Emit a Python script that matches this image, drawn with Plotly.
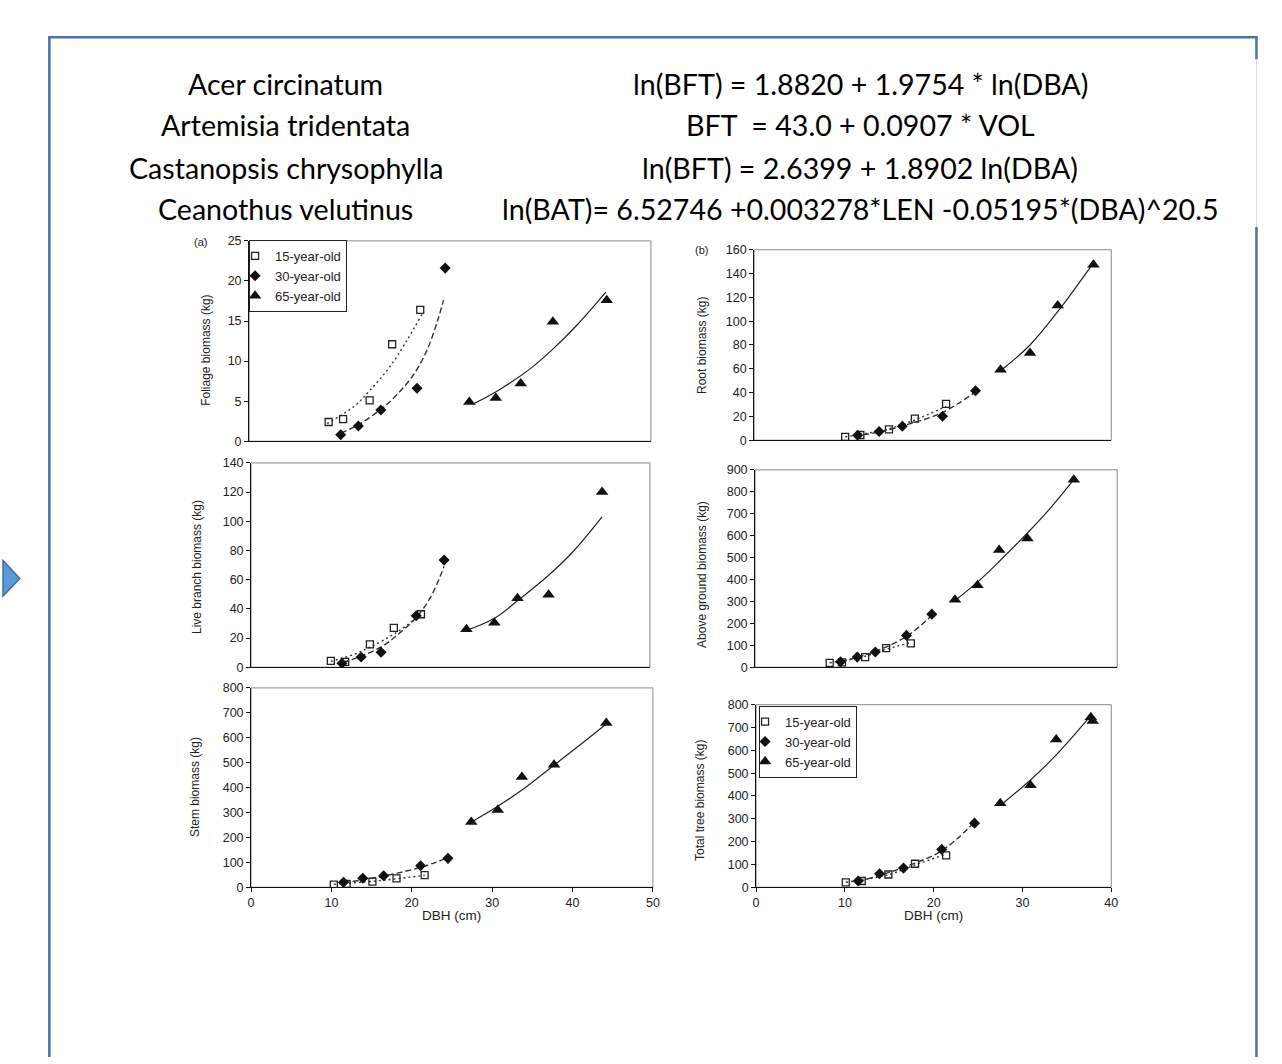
import plotly.graph_objects as go

W, H = 1282, 1064

# ---------------- header text ----------------
species = ["Acer circinatum", "Artemisia tridentata", "Castanopsis chrysophylla", "Ceanothus velutinus"]
equations = [
    "ln(BFT) = 1.8820 + 1.9754 * ln(DBA)",
    "BFT  = 43.0 + 0.0907 * VOL",
    "ln(BFT) = 2.6399 + 1.8902 ln(DBA)",
    "ln(BAT)= 6.52746 +0.003278*LEN -0.05195*(DBA)^20.5",
]

series_names = ["15-year-old", "30-year-old", "65-year-old"]

# ---------------- (a) Foliage biomass ----------------
fol_dbh_15 = [9.9, 11.7, 15.0, 17.8, 21.3]
fol_kg_15 = [2.4, 2.75, 5.1, 12.1, 16.4]
fol_dbh_30 = [11.4, 13.6, 16.4, 20.9, 24.4]
fol_kg_30 = [0.8, 1.9, 3.9, 6.6, 21.6]
fol_dbh_65 = [27.4, 30.7, 33.8, 37.8, 44.5]
fol_kg_65 = [4.9, 5.4, 7.2, 14.9, 17.6]
fol_fit_dbh_15 = [9.7, 13.0, 15.0, 17.8, 21.5]
fol_fit_kg_15 = [2.2, 4.3, 6.3, 9.7, 15.8]
fol_fit_dbh_30 = [11.4, 13.6, 16.3, 17.9, 20.4, 22.2, 23.5, 24.2]
fol_fit_kg_30 = [1.0, 2.05, 3.9, 5.3, 8.2, 11.5, 15.2, 17.6]
fol_fit_dbh_65 = [28.0, 31.1, 34.8, 37.7, 40.9, 44.4]
fol_fit_kg_65 = [4.7, 6.4, 8.9, 11.4, 14.6, 18.6]

# ---------------- (b) Root biomass ----------------
root_dbh_15 = [10.2, 11.9, 15.1, 18.0, 21.5]
root_kg_15 = [2.75, 4.4, 9.1, 18.2, 30.6]
root_dbh_30 = [11.6, 14.0, 16.6, 21.1, 24.8]
root_kg_30 = [4.1, 7.4, 11.8, 20.1, 41.6]
root_dbh_65 = [27.6, 30.9, 34.0, 38.0]
root_kg_65 = [59.2, 73.3, 113.2, 147.4]
root_fit_dbh_15 = [10.2, 15.0, 18.0, 21.5]
root_fit_kg_15 = [2.8, 9.5, 17.0, 28.5]
root_fit_dbh_30 = [11.2, 14.0, 17.3, 21.0, 24.6]
root_fit_kg_30 = [3.6, 7.0, 13.5, 23.0, 39.5]
root_fit_dbh_65 = [27.7, 30.9, 34.0, 37.9]
root_fit_kg_65 = [59.0, 80.0, 108.0, 148.0]

# ---------------- Live branch biomass ----------------
live_dbh_15 = [10.0, 11.8, 14.9, 17.9, 21.3]
live_kg_15 = [4.3, 3.6, 15.6, 26.9, 36.3]
live_dbh_30 = [11.4, 13.8, 16.3, 20.7, 24.2]
live_kg_30 = [2.7, 7.0, 10.2, 35.2, 73.4]
live_dbh_65 = [27.0, 30.5, 33.4, 37.3, 44.0]
live_kg_65 = [26.0, 30.5, 47.2, 49.7, 120.0]
live_fit_dbh_15 = [10.0, 13.0, 15.0, 18.0, 21.3]
live_fit_kg_15 = [4.0, 9.0, 14.0, 23.0, 36.0]
live_fit_dbh_30 = [11.5, 14.0, 16.5, 18.1, 20.7, 22.5, 24.2]
live_fit_kg_30 = [3.2, 8.0, 14.5, 21.0, 34.0, 48.0, 69.0]
live_fit_dbh_65 = [26.7, 30.5, 33.4, 37.3, 40.5, 44.0]
live_fit_kg_65 = [24.5, 33.5, 45.5, 63.0, 80.0, 103.0]

# ---------------- Above ground biomass ----------------
above_dbh_15 = [10.3, 12.0, 15.2, 18.1, 21.5]
above_kg_15 = [19.5, 22.0, 46.0, 87.0, 109.0]
above_dbh_30 = [11.8, 14.1, 16.6, 20.9, 24.4]
above_kg_30 = [25.0, 46.0, 69.0, 145.0, 242.0]
above_dbh_65 = [27.6, 30.7, 33.7, 37.6, 44.0]
above_kg_65 = [307.0, 374.0, 534.0, 587.0, 855.0]
above_fit_dbh_15 = [10.3, 15.2, 18.1, 21.5]
above_fit_kg_15 = [20.0, 50.0, 82.0, 112.0]
above_fit_dbh_30 = [11.8, 14.1, 16.6, 20.9, 24.4]
above_fit_kg_30 = [22.0, 45.0, 72.0, 140.0, 236.0]
above_fit_dbh_65 = [27.6, 30.7, 33.7, 37.6, 40.5, 44.0]
above_fit_kg_65 = [304.0, 388.0, 482.0, 612.0, 715.0, 855.0]

# ---------------- Stem biomass ----------------
stem_dbh_15 = [10.3, 11.9, 15.1, 18.1, 21.6]
stem_kg_15 = [10.6, 13.0, 22.5, 35.7, 49.0]
stem_dbh_30 = [11.5, 13.9, 16.5, 21.1, 24.5]
stem_kg_30 = [20.0, 36.0, 46.0, 86.0, 116.0]
stem_dbh_65 = [27.4, 30.7, 33.7, 37.7, 44.2]
stem_kg_65 = [262.0, 310.0, 443.0, 492.0, 659.0]
stem_fit_dbh_15 = [10.3, 15.1, 18.1, 21.6]
stem_fit_kg_15 = [12.0, 24.0, 34.0, 48.0]
stem_fit_dbh_30 = [11.5, 13.9, 16.5, 21.1, 24.5]
stem_fit_kg_30 = [17.0, 30.0, 45.0, 80.0, 118.0]
stem_fit_dbh_65 = [27.6, 30.7, 33.7, 37.7, 41.0, 44.2]
stem_fit_kg_65 = [265.0, 325.0, 390.0, 490.0, 573.0, 655.0]

# ---------------- Total tree biomass ----------------
total_dbh_15 = [10.1, 11.9, 14.9, 17.9, 21.4]
total_kg_15 = [21.7, 27.5, 56.0, 103.0, 140.0]
total_dbh_30 = [11.5, 13.9, 16.6, 20.9, 24.6]
total_kg_30 = [27.5, 59.0, 84.0, 166.0, 281.0]
total_dbh_65 = [27.5, 30.9, 33.8, 37.7, 37.9]
total_kg_65 = [368.0, 447.0, 647.0, 745.0, 729.0]
total_fit_dbh_15 = [10.1, 14.9, 17.9, 21.4]
total_fit_kg_15 = [22.0, 55.0, 98.0, 145.0]
total_fit_dbh_30 = [11.5, 13.9, 16.6, 20.9, 24.6]
total_fit_kg_30 = [25.0, 52.0, 87.0, 160.0, 285.0]
total_fit_dbh_65 = [27.7, 30.9, 33.8, 37.7]
total_fit_kg_65 = [365.0, 470.0, 580.0, 752.0]

# tick values
foliage_ticks = [0, 5, 10, 15, 20, 25]
root_ticks = [0, 20, 40, 60, 80, 100, 120, 140, 160]
live_ticks = [0, 20, 40, 60, 80, 100, 120, 140]
above_ticks = [0, 100, 200, 300, 400, 500, 600, 700, 800, 900]
stem_ticks = [0, 100, 200, 300, 400, 500, 600, 700, 800]
total_ticks = [0, 100, 200, 300, 400, 500, 600, 700, 800]
dbh_ticks_left = [0, 10, 20, 30, 40, 50]
dbh_ticks_right = [0, 10, 20, 30, 40]


def px(x):
    return x / W


def py(y):
    return 1 - y / H


panels = [
    dict(name="foliage", box=(248, 653, 237, 440), xr=[0, 50], yr=[0, 25], yt=foliage_ticks,
         xt=None, title="Foliage biomass (kg)", tpos=(205, 348),
         data=[(fol_dbh_15, fol_kg_15, fol_fit_dbh_15, fol_fit_kg_15),
               (fol_dbh_30, fol_kg_30, fol_fit_dbh_30, fol_fit_kg_30),
               (fol_dbh_65, fol_kg_65, fol_fit_dbh_65, fol_fit_kg_65)]),
    dict(name="root", box=(757, 1117, 246, 439), xr=[0, 40], yr=[0, 160], yt=root_ticks,
         xt=None, title="Root biomass (kg)", tpos=(705, 343),
         data=[(root_dbh_15, root_kg_15, root_fit_dbh_15, root_fit_kg_15),
               (root_dbh_30, root_kg_30, root_fit_dbh_30, root_fit_kg_30),
               (root_dbh_65, root_kg_65, root_fit_dbh_65, root_fit_kg_65)]),
    dict(name="live", box=(250, 652, 462, 669), xr=[0, 50], yr=[0, 140], yt=live_ticks,
         xt=None, title="Live branch biomass (kg)", tpos=(195, 567),
         data=[(live_dbh_15, live_kg_15, live_fit_dbh_15, live_fit_kg_15),
               (live_dbh_30, live_kg_30, live_fit_dbh_30, live_fit_kg_30),
               (live_dbh_65, live_kg_65, live_fit_dbh_65, live_fit_kg_65)]),
    dict(name="above", box=(758, 1123, 469, 669), xr=[0, 50], yr=[0, 900], yt=above_ticks,
         xt=None, title="Above ground biomass (kg)", tpos=(705, 575),
         data=[(above_dbh_15, above_kg_15, above_fit_dbh_15, above_fit_kg_15),
               (above_dbh_30, above_kg_30, above_fit_dbh_30, above_fit_kg_30),
               (above_dbh_65, above_kg_65, above_fit_dbh_65, above_fit_kg_65)]),
    dict(name="stem", box=(250, 655, 690, 892), xr=[0, 50], yr=[0, 800], yt=stem_ticks,
         xt=dbh_ticks_left, title="Stem biomass (kg)", tpos=(193, 790),
         data=[(stem_dbh_15, stem_kg_15, stem_fit_dbh_15, stem_fit_kg_15),
               (stem_dbh_30, stem_kg_30, stem_fit_dbh_30, stem_fit_kg_30),
               (stem_dbh_65, stem_kg_65, stem_fit_dbh_65, stem_fit_kg_65)]),
    dict(name="total", box=(759, 1117, 707, 892), xr=[0, 40], yr=[0, 800], yt=total_ticks,
         xt=dbh_ticks_right, title="Total tree biomass (kg)", tpos=(703, 804),
         data=[(total_dbh_15, total_kg_15, total_fit_dbh_15, total_fit_kg_15),
               (total_dbh_30, total_kg_30, total_fit_dbh_30, total_fit_kg_30),
               (total_dbh_65, total_kg_65, total_fit_dbh_65, total_fit_kg_65)]),
]

marker_styles = [
    dict(symbol="square-open", size=7, color="#222", line=dict(width=1.3, color="#222")),
    dict(symbol="diamond", size=8.5, color="#111"),
    dict(symbol="triangle-up", size=11, color="#111"),
]
line_styles = [
    dict(color="#333", width=1.4, dash="2px,3px"),
    dict(color="#333", width=1.4, dash="6px,3px"),
    dict(color="#222", width=1.2),
]

TICK_FONT = dict(family="Liberation Sans, Arial", size=12.5, color="#222")

fig = go.Figure()
annotations = []
shapes = []
layout_axes = {}

for i, p in enumerate(panels):
    idx = "" if i == 0 else str(i + 1)
    xa, ya = "x" + idx, "y" + idx
    x0, x1, yt, yb = p["box"]
    layout_axes["xaxis" + idx] = dict(
        domain=[px(x0), px(x1)], range=p["xr"], anchor=ya,
        showline=True, linecolor="#111", linewidth=1, showgrid=False, zeroline=False,
        ticks="outside" if p["xt"] else "", ticklen=4, tickcolor="#111",
        tickvals=p["xt"] if p["xt"] else [], showticklabels=bool(p["xt"]),
        tickfont=TICK_FONT, fixedrange=True,
    )
    layout_axes["yaxis" + idx] = dict(
        domain=[py(yb), py(yt)], range=p["yr"], anchor=xa,
        showline=True, linecolor="#111", linewidth=1, showgrid=False, zeroline=False,
        ticks="outside", ticklen=4, tickcolor="#111", tickvals=p["yt"],
        tickfont=TICK_FONT, fixedrange=True,
    )
    shapes.append(dict(type="rect", xref=xa + " domain", yref=ya + " domain",
                       x0=0, x1=1, y0=0, y1=1, line=dict(color="#8a8a8a", width=1), layer="below"))
    annotations.append(dict(text=p["title"], x=px(p["tpos"][0]), y=py(p["tpos"][1]),
                            xref="paper", yref="paper", showarrow=False, textangle=-90,
                            font=dict(family="Liberation Sans, Arial", size=12, color="#222"),
                            xanchor="center", yanchor="middle"))
    if p["xt"]:
        annotations.append(dict(text="DBH (cm)", x=px((x0 + x1) / 2), y=py(921),
                                xref="paper", yref="paper", showarrow=False,
                                font=dict(family="Liberation Sans, Arial", size=13.5, color="#222"),
                                xanchor="center", yanchor="middle"))
    for s, (dx, dy, fx, fy) in enumerate(p["data"]):
        legend_name = None
        if p["name"] == "foliage":
            legend_name = "legend"
        elif p["name"] == "total":
            legend_name = "legend2"
        fig.add_trace(go.Scatter(x=fx, y=fy, mode="lines", line=line_styles[s], line_shape="spline",
                                 xaxis=xa, yaxis=ya, showlegend=False, hoverinfo="skip"))
        fig.add_trace(go.Scatter(x=dx, y=dy, mode="markers", marker=marker_styles[s],
                                 name=series_names[s], xaxis=xa, yaxis=ya,
                                 showlegend=legend_name is not None,
                                 legend=legend_name if legend_name else "legend"))

annotations.append(dict(text="(a)", x=px(199.5), y=py(238), xref="paper", yref="paper", showarrow=False,
                        xanchor="center", yanchor="middle",
                        font=dict(family="Liberation Sans, Arial", size=11, color="#222")))
annotations.append(dict(text="(b)", x=px(704), y=py(246), xref="paper", yref="paper", showarrow=False,
                        xanchor="center", yanchor="middle",
                        font=dict(family="Liberation Sans, Arial", size=11, color="#222")))

row_y = [78, 120, 163, 205]
for sp, eq, yy in zip(species, equations, row_y):
    annotations.append(dict(text=sp, x=px(285), y=py(yy), xref="paper", yref="paper", showarrow=False,
                            font=dict(family="Lato", size=28.6, color="#000"), xanchor="center", yanchor="middle"))
    annotations.append(dict(text=eq, x=px(864), y=py(yy), xref="paper", yref="paper", showarrow=False,
                            font=dict(family="Lato", size=28.6, color="#000"), xanchor="center", yanchor="middle"))

frame_col = "#4a74a8"
shapes += [
    dict(type="line", xref="paper", yref="paper", x0=px(46.7), x1=px(46.7), y0=py(30), y1=0,
         line=dict(color=frame_col, width=2.5)),
    dict(type="line", xref="paper", yref="paper", x0=px(45.5), x1=px(1264.5), y0=py(30.7), y1=py(30.7),
         line=dict(color=frame_col, width=2.5)),
    dict(type="line", xref="paper", yref="paper", x0=px(1263.3), x1=px(1263.3), y0=py(30), y1=py(53),
         line=dict(color=frame_col, width=2.5)),
    dict(type="line", xref="paper", yref="paper", x0=px(1263.3), x1=px(1263.3), y0=py(53), y1=py(223),
         line=dict(color="#d3dded", width=1)),
    dict(type="line", xref="paper", yref="paper", x0=px(1263.3), x1=px(1263.3), y0=py(223), y1=0,
         line=dict(color=frame_col, width=2.5)),
    dict(type="path", xref="paper", yref="paper",
         path=f"M 0,{py(561)} L {px(17)},{py(579)} L 0,{py(597)} Z",
         fillcolor="#5b9bd5", line=dict(color="#41719c", width=1.5)),
]

legend_common = dict(bgcolor="white", bordercolor="#222", borderwidth=1, xanchor="left", yanchor="top",
                     font=dict(family="Liberation Sans, Arial", size=13, color="#222"),
                     itemwidth=30, indentation=-15, tracegroupgap=0)

fig.update_layout(
    width=W, height=H, autosize=False,
    margin=dict(l=0, r=0, t=0, b=0),
    paper_bgcolor="white", plot_bgcolor="white",
    annotations=annotations, shapes=shapes,
    legend=dict(x=px(248), y=py(236), **legend_common),
    legend2=dict(x=px(762), y=py(708), **legend_common),
    **layout_axes,
)

fig.write_html("out.html", config={"displayModeBar": False},
               post_script="document.body.style.margin='0px';")
